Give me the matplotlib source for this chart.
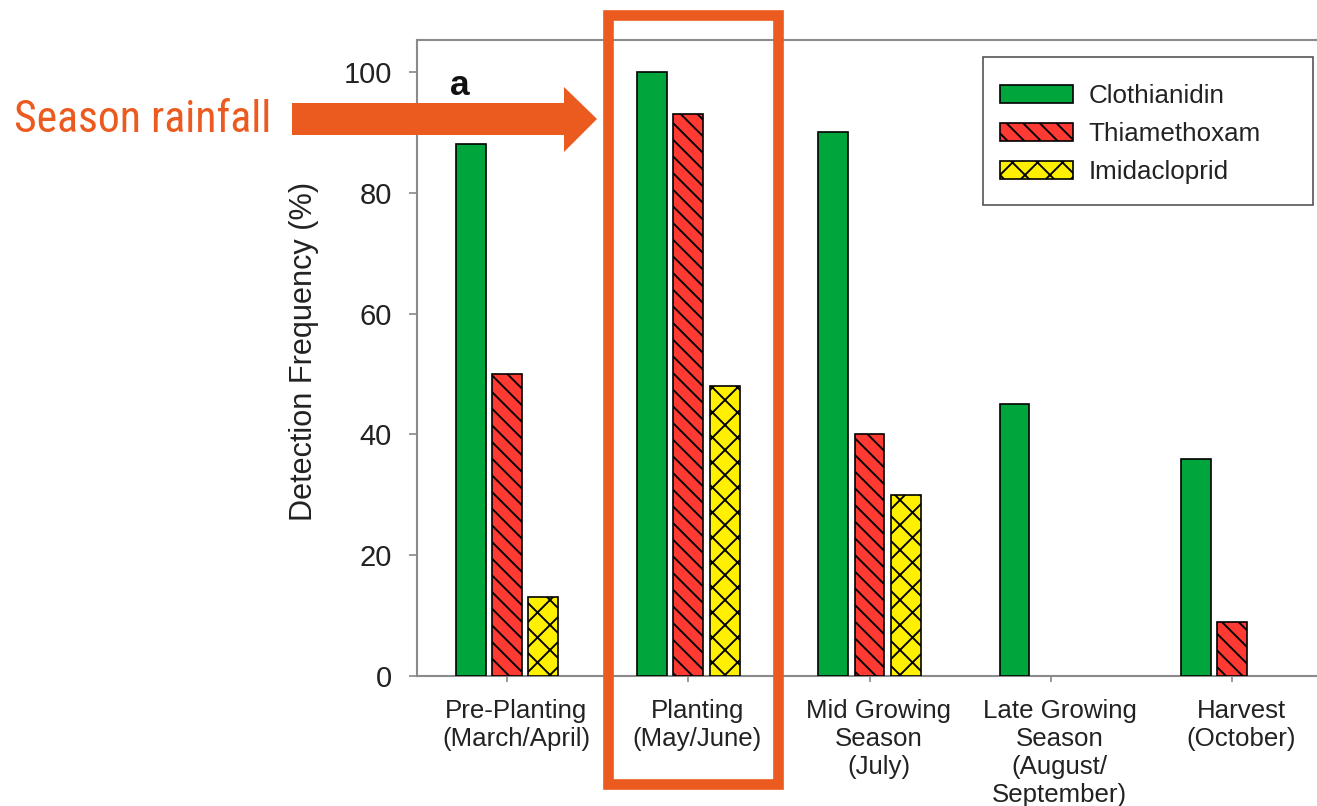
import matplotlib
matplotlib.use("Agg")
import matplotlib.pyplot as plt
import numpy as np
from matplotlib.patches import Rectangle, Polygon
from matplotlib import font_manager

DPI = 150
W, H = 1317, 806

categories = ["Pre-Planting\n(March/April)", "Planting\n(May/June)",
              "Mid Growing\nSeason\n(July)",
              "Late Growing\nSeason\n(August/\nSeptember)",
              "Harvest\n(October)"]
series_names = ["Clothianidin", "Thiamethoxam", "Imidacloprid"]
clothianidin = [88, 100, 90, 45, 36]
thiamethoxam = [50, 93, 40, 0, 9]
imidacloprid = [13, 48, 30, 0, 0]
yticks = [0, 20, 40, 60, 80, 100]

colors = ["#00A53C", "#FF3A33", "#FFF000"]
hatches = [None, "\\\\\\", "xx"]

plt.rcParams['font.family'] = ['Liberation Sans', 'DejaVu Sans']
plt.rcParams['hatch.linewidth'] = 0.9

names = {f.name for f in font_manager.fontManager.ttflist}
cond = [n for n in ["Roboto Condensed", "Liberation Sans Narrow", "Open Sans Condensed",
                    "DejaVu Sans Condensed"] if n in names]

fig = plt.figure(figsize=(W / DPI, H / DPI), dpi=DPI)
ax = fig.add_axes([417 / W, 1 - 676 / H, 1 - 417 / W, (676 - 40) / H])

x = np.arange(len(categories))
width = 0.165
offset = 0.2
for i, (vals, name) in enumerate(zip([clothianidin, thiamethoxam, imidacloprid], series_names)):
    bars = ax.bar(x + (i - 1) * offset, vals, width, color=colors[i], edgecolor="black",
                  linewidth=0.8, hatch=hatches[i], label=name, zorder=3)
    for b, v in zip(bars, vals):
        if v == 0:
            b.set_visible(False)

ax.set_xlim(-0.497, 4.469)
ax.set_ylim(0, 105.3)
ax.set_yticks(yticks)
# tick marks at the category centres (minor), labels slightly to the right (major)
label_shift = 0.05
ax.set_xticks(x, minor=True)
ax.set_xticks(x + label_shift)
ax.set_xticklabels(categories, fontsize=12.4, color="#222222", linespacing=1.22)
ax.tick_params(axis='x', which='major', length=0, pad=11, labelcolor="#222222")
ax.tick_params(axis='x', which='minor', colors="#888888", length=3, width=0.8)
ax.tick_params(axis='y', labelsize=14, colors="#888888", labelcolor="#222222",
               length=4, width=0.8, direction='out', pad=8)
ax.spines["right"].set_visible(False)
for s in ["left", "bottom", "top"]:
    ax.spines[s].set_color("#8a8a8a")
    ax.spines[s].set_linewidth(1.0)
ax.set_ylabel("Detection Frequency (%)", fontsize=14.7, color="#222222", labelpad=12)
ax.yaxis.label.set_y(0.511)

ax.text(0.037, 0.928, "a", transform=ax.transAxes, fontsize=17, fontweight="bold",
        ha="left", va="center", color="#111111")

leg = ax.legend(loc="upper left", bbox_to_anchor=(1000 / W, 1 - 84 / H),
                bbox_transform=fig.transFigure, borderaxespad=0, fontsize=12.5,
                frameon=False, handlelength=2.8, handleheight=0.7, handletextpad=0.6,
                labelspacing=0.54, borderpad=0)
for t in leg.get_texts():
    t.set_color("#222222")

# annotation overlay in pixel coords
ov = fig.add_axes([0, 0, 1, 1], zorder=10)
ov.set_xlim(0, W)
ov.set_ylim(H, 0)
ov.axis("off")
ov.patch.set_alpha(0)
# legend frame
ov.add_patch(Rectangle((983, 57), 1313 - 983, 205 - 57, fill=False,
                       edgecolor="#555555", linewidth=0.8))
orange = "#EB5A1E"
ov.add_patch(Rectangle((608, 15), 777.5 - 608, 784 - 15, fill=False,
                       edgecolor=orange, linewidth=5.1))
ov.add_patch(Polygon([(292, 103), (564, 103), (564, 87), (597, 119),
                      (564, 152), (564, 135), (292, 135)], closed=True,
                     facecolor=orange, edgecolor="none"))
if cond:
    ov.text(14, 120, "Season rainfall", fontsize=21, color=orange, ha="left", va="center",
            family=[cond[0], "DejaVu Sans"])
else:
    ov.text(14, 120, "Season rainfall", fontsize=19, color=orange, ha="left", va="center")

fig.savefig("out.png", dpi=DPI)
